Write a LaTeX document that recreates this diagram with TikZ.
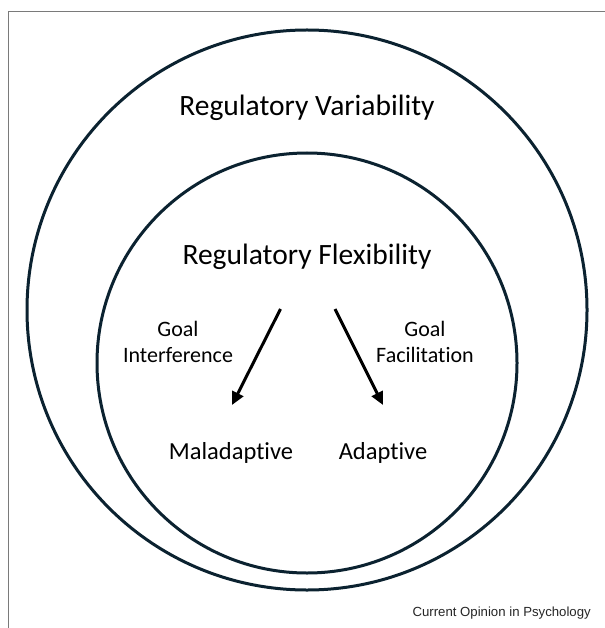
\documentclass[tikz,border=0pt]{standalone}
\usepackage{fontspec}
\setmainfont{Carlito}[Ligatures=NoCommon]
\newfontfamily\arialfont{Liberation Sans}
\usetikzlibrary{arrows.meta}
\definecolor{ringcol}{HTML}{0B2230}
\definecolor{framecol}{HTML}{7A7A7A}
\tikzset{
  ring/.style={draw=ringcol, line width=3pt},
  title/.style={font=\fontsize{29.5}{34}\selectfont, inner sep=0pt, anchor=base},
  lbl/.style={font=\fontsize{22}{26}\selectfont, align=center, inner sep=0pt, anchor=base},
  outcome/.style={font=\fontsize{24.5}{28}\selectfont, inner sep=0pt, anchor=base},
  arr/.style={line width=3pt, -{Triangle[length=13pt,width=12pt]}}
}
\begin{document}
\begin{tikzpicture}[x=1pt,y=-1pt]
\useasboundingbox (0,0) rectangle (604,628);
\fill[white] (0,0) rectangle (604,628);
\draw[framecol, line width=1.5pt] (8.5,640) -- (8.5,11.5) -- (620,11.5);
\node[ring, circle, minimum size=560pt, inner sep=0pt] (outer) at (307,310) {};
\node[ring, circle, minimum size=420pt, inner sep=0pt] (inner) at (307,363) {};
\node[title] (var) at (307,116) {Regulatory Variability};
\node[title] (flex) at (307,264) {Regulatory Flexibility};
\node[lbl] (gi) at (178,362) {Goal\\Interference};
\node[lbl] (gf) at (425,362) {Goal\\Facilitation};
\node[outcome] (mal) at (231,459) {Maladaptive};
\node[outcome] (ada) at (383,459) {Adaptive};
\coordinate (a1s) at (280.5,309);
\coordinate (a1e) at (232,405);
\coordinate (a2s) at (335,309);
\coordinate (a2e) at (383,405);
\draw[arr] (a1s) -- (a1e);
\draw[arr] (a2s) -- (a2e);
\node[font=\arialfont\fontsize{13.2}{15}\selectfont, anchor=base east, inner sep=0pt, text=black!85] (src) at (591,616) {Current Opinion in Psychology};
\end{tikzpicture}
\end{document}
